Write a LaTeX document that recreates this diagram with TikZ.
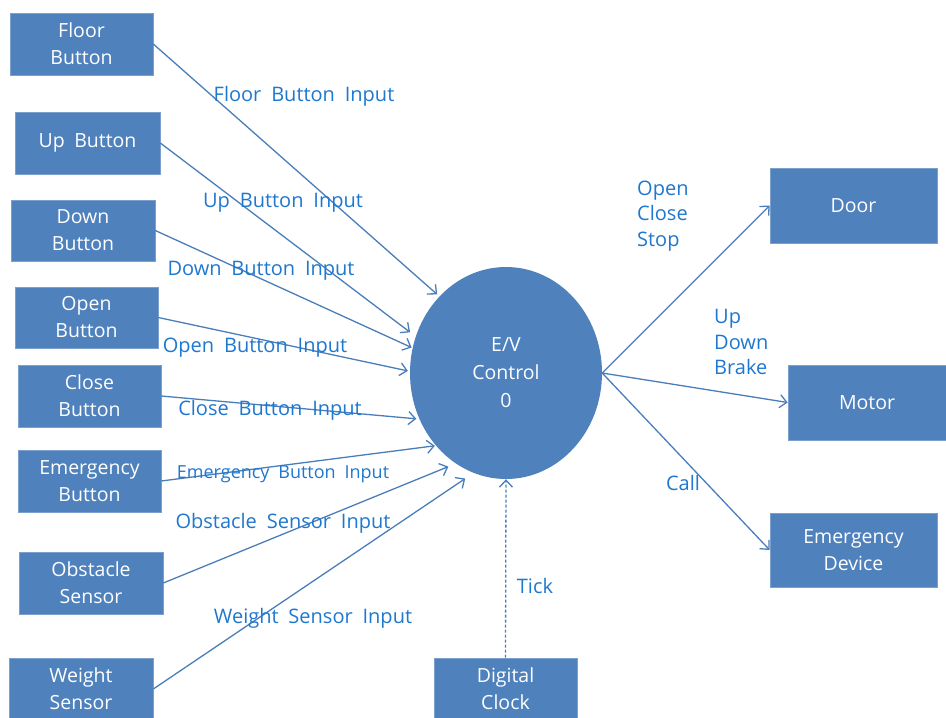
\documentclass[tikz,border=0pt]{standalone}
\usepackage{fontspec}
\setmainfont[WordSpace=1.9]{Open Sans}
\usetikzlibrary{arrows.meta,shapes.geometric}
\definecolor{boxblue}{HTML}{4F81BD}
\definecolor{lineblue}{HTML}{4A7EBB}
\definecolor{labelblue}{HTML}{1F78CF}

\begin{document}
\begin{tikzpicture}[x=1pt,y=-1pt,
  block/.style={fill=boxblue, draw=boxblue!75!white, line width=0.6pt,
    text=white, align=center, inner sep=0pt,
    font=\fontsize{19.5}{27}\selectfont},
  flowlabel/.style={text=labelblue, inner sep=0pt, yshift=-3pt,
    font=\fontsize{20}{25.5}\selectfont},
  flow/.style={draw=lineblue, line width=1.3pt,
    -{Straight Barb[length=7pt,width=13pt,line width=1.3pt]}},
]
\clip (0,0) rectangle (946,718);
\fill[white] (0,0) rectangle (946,718);

% external entities on the left
\node[block, minimum width=143pt, minimum height=62pt] (floor)  at (81.5,44)   {Floor\\Button};
\node[block, minimum width=145pt, minimum height=62pt] (up)     at (87.5,143)  {Up Button};
\node[block, minimum width=144pt, minimum height=61pt] (down)   at (83,230.5)  {Down\\Button};
\node[block, minimum width=143pt, minimum height=61pt] (open)   at (86.5,317.5){Open\\Button};
\node[block, minimum width=143pt, minimum height=62pt] (close)  at (89.5,396)  {Close\\Button};
\node[block, minimum width=143pt, minimum height=62pt] (emerg)  at (89.5,481)  {Emergency\\Button};
\node[block, minimum width=144pt, minimum height=62pt] (obst)   at (91,583)    {Obstacle\\Sensor};
\node[block, minimum width=144pt, minimum height=62pt] (weight) at (81,689)    {Weight\\Sensor};
\node[block, minimum width=143pt, minimum height=62pt] (clock)  at (505.5,689) {Digital\\Clock};

% external entities on the right
\node[block, minimum width=167pt, minimum height=75pt] (door)  at (853.5,205.5) {Door};
\node[block, minimum width=158pt, minimum height=75pt] (motor) at (867,402.5)   {Motor};
\node[block, minimum width=167pt, minimum height=74pt] (edev)  at (853.5,550)   {Emergency\\Device};

% central process
\node[ellipse, fill=boxblue, text=white, align=center, inner sep=0pt,
      minimum width=192pt, minimum height=212pt,
      font=\fontsize{19.5}{28}\selectfont] (ctrl) at (506,373) {E/V\\Control\\0};

% data flows into the controller
\draw[flow, shorten >=3pt] (floor.east)  -- (ctrl.131.5);
\draw[flow, shorten >=7pt] (up.east)     -- (ctrl.158.3);
\draw[flow, shorten >=1pt] (down.east)   -- (ctrl.165.5);
\draw[flow, shorten >=2pt] (open.east)   -- (ctrl.179.4);
\draw[flow, shorten >=3pt] (close.east)  -- (ctrl.208.8);
\draw[flow, shorten >=1pt] (emerg.east)  -- (ctrl.226.2);
\draw[flow, shorten >=8pt] (obst.east)   -- (ctrl.241.4);
\draw[flow, shorten >=10pt] (weight.east) -- (ctrl.252);
\draw[flow, dash pattern=on 3pt off 2pt] (clock.north) -- (ctrl.south);

% data flows out of the controller
\draw[flow] (ctrl.east) -- (door.west);
\draw[flow] (ctrl.east) -- (motor.west);
\draw[flow] (ctrl.east) -- (edev.west);

% flow labels
\node[flowlabel] (lfloor)  at (304,93)  {Floor Button Input};
\node[flowlabel] (lup)     at (283,200) {Up Button Input};
\node[flowlabel] (ldown)   at (261,268) {Down Button Input};
\node[flowlabel] (lopen)   at (255,345) {Open Button Input};
\node[flowlabel] (lclose)  at (270,407) {Close Button Input};
\node[flowlabel, font=\fontsize{18}{20}\selectfont] (lemerg) at (283,471) {Emergency Button Input};
\node[flowlabel] (lobst)   at (283,520) {Obstacle Sensor Input};
\node[flowlabel] (lweight) at (313,615) {Weight Sensor Input};
\node[flowlabel] (ltick)   at (535,583) {Tick};
\node[flowlabel, align=left, anchor=west] (ldoor)  at (637,213) {Open\\Close\\Stop};
\node[flowlabel, align=left, anchor=west] (lmotor) at (714,339) {Up\\Down\\Brake};
\node[flowlabel] (lcall)   at (683,480) {Call};
\end{tikzpicture}
\end{document}
